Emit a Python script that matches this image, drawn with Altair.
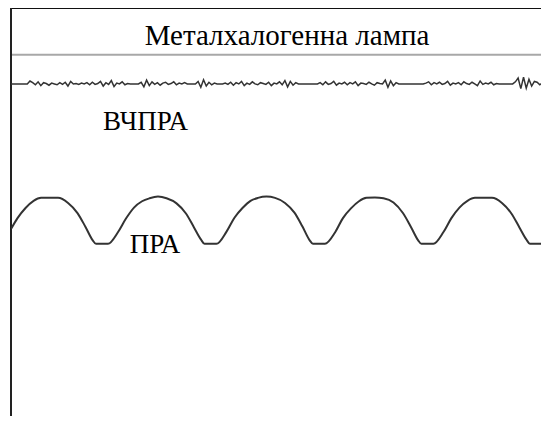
import altair as alt
import pandas as pd

# ---- data ----
# x: time, ms ; y: relative light flux, % of panel height
wave_t = [0.00, 0.60, 1.34, 2.08, 2.77, 3.55, 4.34, 5.26, 6.13, 6.87, 7.52, 7.84, 8.94,
          9.87, 10.60, 11.34, 12.08, 12.77, 13.55, 14.34, 15.26, 16.13, 16.87, 17.52, 17.84, 18.94,
          19.87, 20.60, 21.34, 22.08, 22.77, 23.55, 24.34, 25.26, 26.13, 26.87, 27.52, 27.84, 28.94,
          29.87, 30.60, 31.34, 32.08, 32.77, 33.55, 34.34, 35.26, 36.13, 36.87, 37.52, 37.84, 38.94,
          39.87, 40.60, 41.34, 42.08, 42.77, 43.55, 44.34, 45.26, 46.13, 46.87, 47.52, 47.84, 48.94,
          49.60]
wave_v = [47.6, 50.2, 52.6, 54.3, 55.0, 55.0, 55.0, 53.8, 51.4, 48.1, 45.0, 44.1, 44.1,
          46.9, 50.1, 52.7, 54.2, 54.9, 55.3, 54.9, 53.7, 51.3, 48.0, 45.1, 44.1, 44.1,
          47.0, 50.3, 52.6, 54.3, 55.0, 55.3, 55.0, 53.8, 51.5, 48.2, 45.0, 44.1, 44.1,
          46.8, 50.2, 52.5, 54.2, 55.0, 55.1, 54.9, 53.9, 51.4, 48.1, 45.0, 44.1, 44.1,
          46.9, 50.2, 52.7, 54.3, 55.0, 55.0, 55.0, 53.8, 51.3, 48.0, 45.1, 44.1, 44.1,
          46.3]

hf_step = 0.25  # sampling interval, ms
hf_v = [82.0, 82.0, 82.0, 82.0, 82.0, 82.0, 82.0,
        82.7, 82.3,
        81.8, 82.5, 81.6, 82.3, 82.1, 81.7, 82.2, 82.0, 81.8, 82.3, 81.9, 82.4, 81.5, 82.6, 82.0,
        82.1, 81.9, 82.2, 82.0, 82.3, 81.8, 82.4, 81.9, 82.1,
        82.6, 81.5, 82.3, 81.9, 82.8, 81.4, 82.2, 82.0, 82.5, 81.8, 82.1,
        82.0, 82.0, 82.0, 82.0,
        82.4, 81.3, 82.9, 81.6, 82.5, 81.9, 82.3, 81.7, 82.2,
        82.4, 81.9, 82.1, 82.5, 81.8, 82.2, 82.0, 82.3,
        82.0, 82.0, 82.0, 82.0,
        82.6, 81.2, 83.0, 81.5, 82.4, 81.8, 82.2,
        82.0, 82.0, 82.0,
        82.2, 81.9, 82.4, 81.7, 82.3, 82.0, 82.6, 81.6, 82.2, 81.9, 82.5, 82.0, 81.8, 82.3, 82.1,
        81.9, 82.4, 81.6, 82.2, 82.0, 82.5, 81.8,
        82.8, 81.3, 82.6, 81.7, 82.3, 82.0,
        82.0, 82.0, 82.0, 82.0, 82.0, 82.0, 82.0,
        82.3, 81.8, 82.5, 81.9, 82.1, 82.6, 81.7, 82.2, 82.0, 82.4, 81.8, 82.3, 82.0, 82.5, 81.6,
        82.2, 82.1, 81.9, 82.4, 82.0, 81.7, 82.3, 82.1, 82.0,
        82.9, 81.2, 82.7, 81.6, 82.3, 82.0,
        82.0, 82.0, 82.0, 82.0, 82.0, 82.0, 82.0, 82.0, 82.0,
        82.2, 82.5, 81.8, 82.3, 82.0, 82.4, 81.9, 82.1, 82.6, 81.7, 82.2, 82.0, 82.3, 81.8, 82.5,
        82.1, 81.9, 82.4, 82.0, 81.6, 82.7, 81.9, 82.2, 82.0, 82.4, 81.8, 82.1, 82.0,
        82.0, 82.0, 82.0, 82.0, 82.0,
        82.5, 83.4, 80.9, 83.6, 81.0, 83.1, 81.5, 82.6,
        82.4, 81.8, 82.3, 82.0, 82.2]
hf_t = [round(i * hf_step, 2) for i in range(len(hf_v))]

title_text = "Металхалогенна лампа"
title_t = 25.45
title_v = 91.2
label_text = ["ВЧПРА", "ПРА"]
label_t = [12.40, 13.28]
label_v = [71.1, 41.9]

x_max = 48.86     # visible time span, ms
y_min = 3.3       # visible bottom of the panel
y_sep = 88.9      # title separator
y_top = 100.0     # panel frame top

SERIF = "'Liberation Serif', 'Times New Roman', 'DejaVu Serif', serif"

xs = alt.Scale(domain=[0, x_max], nice=False, zero=False)
ys = alt.Scale(domain=[y_min, y_top], nice=False, zero=False)

wave_df = pd.DataFrame({"t": wave_t, "v": wave_v})
hf_df = pd.DataFrame({"t": hf_t, "v": hf_v})
lab_df = pd.DataFrame({"text": label_text, "t": label_t, "v": label_v})
title_df = pd.DataFrame({"text": [title_text], "t": [title_t], "v": [title_v]})
top_df = pd.DataFrame({"y": [y_top], "x1": [0], "x2": [x_max]})
sep_df = pd.DataFrame({"y": [y_sep], "x1": [0], "x2": [x_max]})
left_df = pd.DataFrame({"x": [0], "y1": [y_min], "y2": [y_top]})


def X(f):
    return alt.X(f, type="quantitative", scale=xs, axis=None)


def Y(f):
    return alt.Y(f, type="quantitative", scale=ys, axis=None)


wave = alt.Chart(wave_df).mark_line(color="#333333", strokeWidth=2, interpolate="monotone",
                                    clip=True).encode(x=X("t"), y=Y("v"))
hf = alt.Chart(hf_df).mark_line(color="#333333", strokeWidth=1.5, clip=True).encode(
    x=X("t"), y=Y("v"))

top_rule = alt.Chart(top_df).mark_rule(color="#111111", strokeWidth=2).encode(
    x=X("x1"), x2="x2", y=Y("y"))
sep_rule = alt.Chart(sep_df).mark_rule(color="#a8a8a8", strokeWidth=2).encode(
    x=X("x1"), x2="x2", y=Y("y"))
left_rule = alt.Chart(left_df).mark_rule(color="#222222", strokeWidth=2).encode(
    x=X("x"), y=Y("y1"), y2="y2")

labels = alt.Chart(lab_df).mark_text(font=SERIF, fontSize=27, color="#000000",
                                     align="center", baseline="alphabetic").encode(
    x=X("t"), y=Y("v"), text="text")
title = alt.Chart(title_df).mark_text(font=SERIF, fontSize=29, color="#000000",
                                      align="center", baseline="alphabetic").encode(
    x=X("t"), y=Y("v"), text="text")

chart = alt.layer(top_rule, sep_rule, left_rule, hf, wave, labels, title).properties(
    width=530, height=408,
    padding={"left": 3, "top": 0, "right": 0, "bottom": 0},
    autosize=alt.AutoSizeParams(type="none"),
).configure_view(stroke=None).configure(background="white")

chart.save("out.html", embed_options={"renderer": "svg", "actions": False})
